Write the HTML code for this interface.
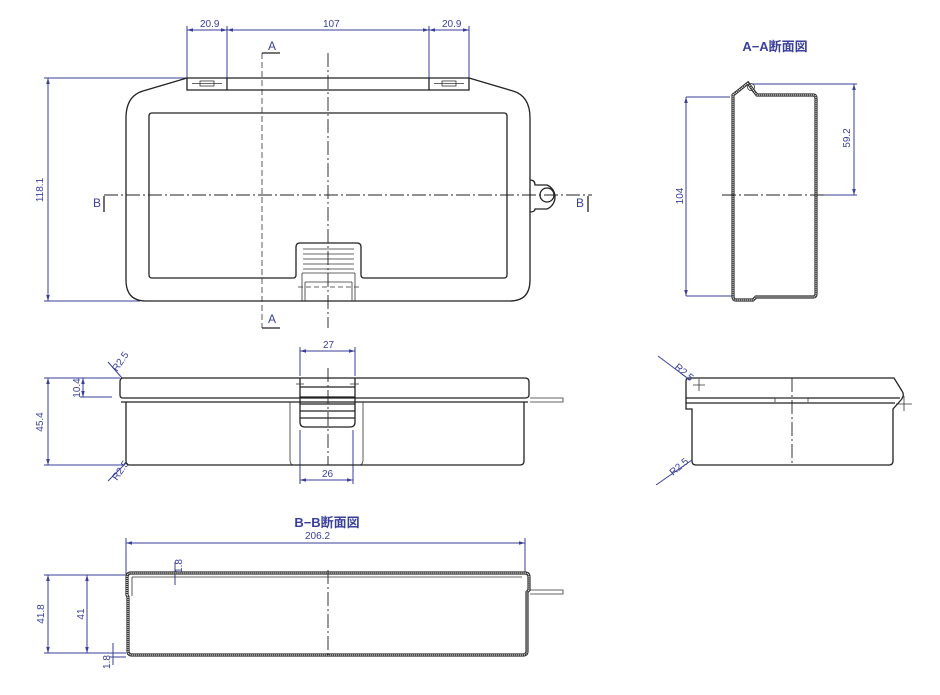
<!DOCTYPE html>
<html><head><meta charset="utf-8"><style>
html,body{margin:0;padding:0;background:#fff;width:940px;height:695px;overflow:hidden}
svg{display:block}
text{font-family:"Liberation Sans","Noto Sans CJK JP",sans-serif;fill:#3a3f9a}
.d{stroke:#3a3f9a;stroke-width:1;fill:none}
.k{stroke:#222;stroke-width:1.3;fill:none}
.t{stroke:#333;stroke-width:0.8;fill:none}
.c{stroke:#222;stroke-width:0.9;fill:none;stroke-dasharray:14 3 2 3}
.h{stroke:#333;stroke-width:3.2;fill:none}
.hi{stroke:#fff;stroke-width:1.2;fill:none;stroke-dasharray:1 1}
.s{font-size:10px}
</style></head><body>
<svg width="940" height="695" viewBox="0 0 940 695" xmlns="http://www.w3.org/2000/svg">
<defs><marker id="a" viewBox="0 0 10 10" refX="10" refY="5" markerWidth="6" markerHeight="6" orient="auto-start-reverse"><path d="M0,2 L10,5 L0,8" fill="#3a3f9a"/></marker></defs>

<!-- TOP VIEW -->
<path class="d" d="M187,78 V26 M227,90 V26 M429,90 V26 M469,78 V26"/>
<line class="d" x1="187" y1="30" x2="227" y2="30" marker-start="url(#a)" marker-end="url(#a)"/>
<line class="d" x1="227" y1="30" x2="429" y2="30" marker-start="url(#a)" marker-end="url(#a)"/>
<line class="d" x1="429" y1="30" x2="469" y2="30" marker-start="url(#a)" marker-end="url(#a)"/>
<text class="s" x="200" y="27">20.9</text><text class="s" x="323" y="27">107</text><text class="s" x="442" y="27">20.9</text>
<path class="d" d="M44,78 H187 M44,301 H140"/>
<line class="d" x1="48" y1="78" x2="48" y2="301" marker-start="url(#a)" marker-end="url(#a)"/>
<text class="s" transform="translate(43,190) rotate(-90)" text-anchor="middle">118.1</text>
<path class="k" d="M187,78 H469 M187,78 L143,91 Q126,96 126,118 V280 Q126,301 146,301 H510 Q530,301 530,280 V118 Q530,96 513,91 L469,78 M187,78 V90 H227 V78 M429,78 V90 H469 V78 M227,90 H429"/>
<rect class="t" x="200" y="81" width="14" height="5"/><rect class="t" x="442" y="81" width="14" height="5"/>
<line class="t" x1="192" y1="83.5" x2="222" y2="83.5"/><line class="t" x1="434" y1="83.5" x2="464" y2="83.5"/>
<path class="k" d="M152,113 H504 Q507,113 507,116 V275 Q507,278 504,278 H364 Q361,278 361,275 V247 Q361,243 357,243 H300 Q296,243 296,247 V275 Q296,278 293,278 H152 Q149,278 149,275 V116 Q149,113 152,113"/>
<g class="t"><path d="M303,249 H354 M303,254 H354 M303,259 H354 M303,264 H354 M303,269 H354"/>
<path d="M302,273 V301 M355,273 V301 M302,273 H355 M305,282 H352 M305,282 V301 M352,282 V301"/></g>
<line class="t" x1="298" y1="287" x2="360" y2="287" stroke-dasharray="5 3"/>
<path class="k" d="M530,180 Q535,180 535,185 H547 A13,13 0 0 1 547,209 H535 Q535,212 530,212"/>
<circle class="k" cx="547" cy="195" r="7"/>
<line class="c" x1="104" y1="195" x2="592" y2="195"/>
<line class="c" x1="328" y1="53" x2="328" y2="328"/>
<line class="t" x1="262" y1="53" x2="262" y2="328" stroke-dasharray="6 3"/>
<path class="k" d="M262,53 H280 M262,328 H280" stroke-width="1"/>
<text x="268" y="50" font-size="12">A</text><text x="268" y="323" font-size="12">A</text>
<text x="93" y="207" font-size="12">B</text><text x="576" y="207" font-size="12">B</text>
<path class="k" stroke-width="1" d="M104,196 V212 M588,196 V212"/>

<!-- FRONT VIEW -->
<path class="d" d="M300,376 V347 M355,376 V347 M300,430 V484 M353,430 V484"/>
<line class="d" x1="300" y1="351" x2="355" y2="351" marker-start="url(#a)" marker-end="url(#a)"/>
<line class="d" x1="300" y1="480" x2="353" y2="480" marker-start="url(#a)" marker-end="url(#a)"/>
<text class="s" x="323" y="348">27</text><text class="s" x="322" y="477">26</text>
<path class="d" d="M44,378 H120 M44,465 H125 M80,397 H112"/>
<line class="d" x1="48" y1="378" x2="48" y2="465" marker-start="url(#a)" marker-end="url(#a)"/>
<line class="d" x1="83" y1="378" x2="83" y2="397" marker-start="url(#a)" marker-end="url(#a)"/>
<text class="s" transform="translate(43,422) rotate(-90)" text-anchor="middle">45.4</text>
<text class="s" transform="translate(80,388) rotate(-90)" text-anchor="middle">10.4</text>
<path class="d" d="M108,362 L122,378 M108,481 L126,463"/>
<text class="s" transform="translate(117,372) rotate(-55)">R2.5</text>
<text class="s" transform="translate(117,481) rotate(-55)">R2.5</text>
<path class="k" d="M123,378 H525 Q529,378 529,382 V395 Q529,398 525,398 H123 Q120,398 120,395 V382 Q120,378 123,378"/>
<path class="k" d="M121,402 H528 M126,402 V461 Q126,465 130,465 H520 Q524,465 524,461 V402"/>
<path class="t" d="M290,402 V460 Q290,465 294,465 M363,402 V460 Q363,465 359,465 M530,398 H563 V402 H530"/>
<path class="k" d="M300,378 V422 Q300,427 305,427 H350 Q355,427 355,422 V378 M300,387 H355 M300,397 H355 M300,404 H355 M300,411 H355 M300,418 H355"/>
<line class="c" x1="328" y1="368" x2="328" y2="465"/>
<path class="t" d="M296,384 H304 M350,384 H359"/>

<!-- A-A SECTION -->
<text x="775" y="51" font-size="13" text-anchor="middle" font-weight="bold">A−A断面図</text>
<path class="d" d="M686,97 H730 M686,296 H733 M752,84 H857 M818,195 H857"/>
<line class="d" x1="686" y1="97" x2="686" y2="296" marker-start="url(#a)" marker-end="url(#a)"/>
<line class="d" x1="854" y1="84" x2="854" y2="195" marker-start="url(#a)" marker-end="url(#a)"/>
<text class="s" transform="translate(683,196) rotate(-90)" text-anchor="middle">104</text>
<text class="s" transform="translate(850,138) rotate(-90)" text-anchor="middle">59.2</text>
<path class="h" d="M733,95 L748,83 L753,90 L757,95 H813 Q816,95 816,99 V294 Q816,297 813,297 H756 L753,300 H736 Q733,300 733,296 Z"/>
<path class="hi" d="M733,95 L748,83 L753,90 L757,95 H813 Q816,95 816,99 V294 Q816,297 813,297 H756 L753,300 H736 Q733,300 733,296 Z"/>
<circle class="t" cx="751" cy="87" r="3.5"/>
<line class="c" x1="722" y1="195" x2="825" y2="195"/>

<!-- RIGHT SIDE VIEW -->
<path class="k" d="M689,378 H894 L902,391 Q905,395 901,400 L893,409 V461 Q893,465 889,465 H696 Q692,465 692,461 V409 H686 V381 Q686,378 689,378 M686,398 H900 M686,403 H895 M686,409 H692"/>
<path class="t" d="M775,398 H808 V402 M775,398 V402 M693,385 H705 M699,379 V391 M896,404 H912 M904,396 V411"/>
<line class="c" x1="792" y1="378" x2="792" y2="465"/>
<path class="d" d="M658,356 L690,380 M656,485 L692,460"/>
<text class="s" transform="translate(674,368) rotate(40)">R2.5</text>
<text class="s" transform="translate(673,476) rotate(-40)">R2.5</text>

<!-- B-B SECTION -->
<text x="327" y="527" font-size="13" text-anchor="middle" font-weight="bold">B−B断面図</text>
<path class="d" d="M126,538 V574 M525,538 V574 M44,575 H125 M84,575 H128 M44,653 H126 M84,653 H126 M109,657 H126 M175,562 V585"/>
<line class="d" x1="126" y1="543" x2="525" y2="543" marker-start="url(#a)" marker-end="url(#a)"/>
<text class="s" x="305" y="539">206.2</text>
<line class="d" x1="48" y1="575" x2="48" y2="653" marker-start="url(#a)" marker-end="url(#a)"/>
<line class="d" x1="87" y1="575" x2="87" y2="653" marker-start="url(#a)" marker-end="url(#a)"/>
<line class="d" x1="113" y1="643" x2="113" y2="665"/>
<text class="s" transform="translate(44,614) rotate(-90)" text-anchor="middle">41.8</text>
<text class="s" transform="translate(84,614) rotate(-90)" text-anchor="middle">41</text>
<text class="s" transform="translate(182,566) rotate(-90)" text-anchor="middle">1.8</text>
<text class="s" transform="translate(110,662) rotate(-90)" text-anchor="middle">1.8</text>
<path class="h" d="M127,595 V577 Q127,573 131,573 H525 Q529,573 529,577 V590 L527,592 V651 Q527,655 523,655 H132 Q128,655 128,651 V597 Z"/>
<path class="hi" d="M127,595 V577 Q127,573 131,573 H525 Q529,573 529,577 V590 L527,592 V651 Q527,655 523,655 H132 Q128,655 128,651 V597 Z"/>
<path class="t" d="M132,577 H522 M132,577 V596 M529,590 H563 V594 H530"/>
<line class="c" x1="328" y1="570" x2="328" y2="657"/>
</svg>
</body></html>
